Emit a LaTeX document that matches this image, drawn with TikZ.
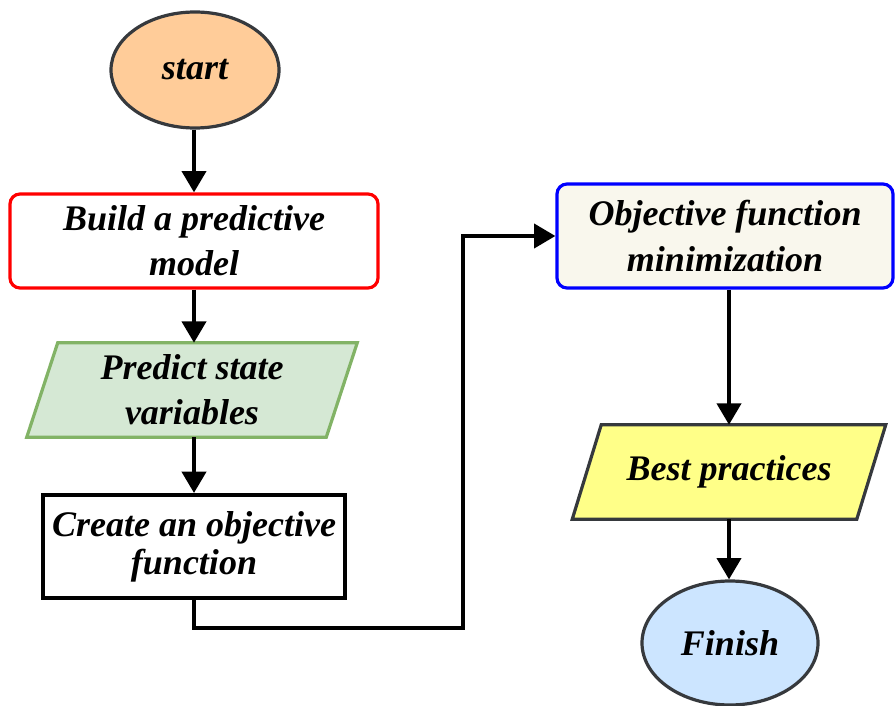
\documentclass[tikz,border=0pt]{standalone}
\usepackage{fontspec}
\setmainfont{Liberation Serif}
\usetikzlibrary{arrows.meta,shapes.geometric,backgrounds,calc}

\definecolor{edgegray}{HTML}{36393D}
\definecolor{startfill}{HTML}{FFCC99}
\definecolor{greenfill}{HTML}{D5E8D4}
\definecolor{greenedge}{HTML}{82B366}
\definecolor{objfill}{HTML}{F9F7ED}
\definecolor{yellowfill}{HTML}{FFFF88}
\definecolor{bluefill}{HTML}{CCE5FF}

\tikzset{
  label/.style={font=\fontsize{27}{34}\selectfont\bfseries\itshape, align=center, inner sep=0pt},
  terminal/.style={label, ellipse, draw=edgegray, line width=2.4pt},
  procbox/.style={label, rectangle, line width=2.4pt},
  iobox/.style={label, rectangle, draw=none},
  arr/.style={line width=3pt, -{Triangle[length=16pt,width=18pt]}},
}

\begin{document}
\begin{tikzpicture}[x=0.75pt, y=-0.75pt]
  \useasboundingbox (0,0) rectangle (895,706);

  % terminals
  \node[terminal, fill=startfill, minimum width=126pt, minimum height=87pt] (start) at (195,70) {start};
  \node[terminal, fill=bluefill, minimum width=132pt, minimum height=93pt] (finish) at (730,643) {Finish};

  % process boxes
  \node[procbox, draw=red, fill=white, rounded corners=7.5pt, minimum width=276pt, minimum height=70.5pt] (build) at (194,241) {Build a predictive\\model};
  \node[procbox, draw=black, fill=white, line width=3pt, minimum width=226.5pt, minimum height=77.25pt,
        font=\fontsize{27}{28.5}\selectfont\bfseries\itshape] (create) at (194,546.5) {Create an objective\\function};
  \node[procbox, draw=blue, fill=objfill, rounded corners=7.5pt, minimum width=252pt, minimum height=78pt] (obj) at (725,236) {Objective function\\minimization};

  % data (parallelogram) boxes: text nodes, outlines drawn behind
  \node[iobox, minimum width=224.25pt, minimum height=70.5pt] (pred) at (192,390) {Predict state\\variables};
  \node[iobox, minimum width=213pt, minimum height=70.5pt] (best) at (729,472) {Best practices};

  \begin{pgfonlayer}{background}
    \draw[draw=greenedge, fill=greenfill, line width=2.4pt, line join=miter]
      ($(pred.north west)+(15.5,0)$) -- ($(pred.north east)+(15.5,0)$)
      -- ($(pred.south east)+(-15.5,0)$) -- ($(pred.south west)+(-15.5,0)$) -- cycle;
    \draw[draw=edgegray, fill=yellowfill, line width=2.4pt, line join=miter]
      ($(best.north west)+(14.5,0)$) -- ($(best.north east)+(14.5,0)$)
      -- ($(best.south east)+(-14.5,0)$) -- ($(best.south west)+(-14.5,0)$) -- cycle;
  \end{pgfonlayer}

  % connectors
  \coordinate (turn) at (463,628);
  \draw[arr] (start.south -| build.north) -- (build.north);
  \draw[arr] (build.south) -- (build.south |- pred.north);
  \draw[arr] (build.south |- pred.south) -- (create.north);
  \draw[arr] (create.south) |- (turn) |- (obj.west);
  \draw[arr] (obj.south -| best.north) -- (best.north);
  \draw[arr] (best.south) -- (best.south |- finish.north);
\end{tikzpicture}
\end{document}
